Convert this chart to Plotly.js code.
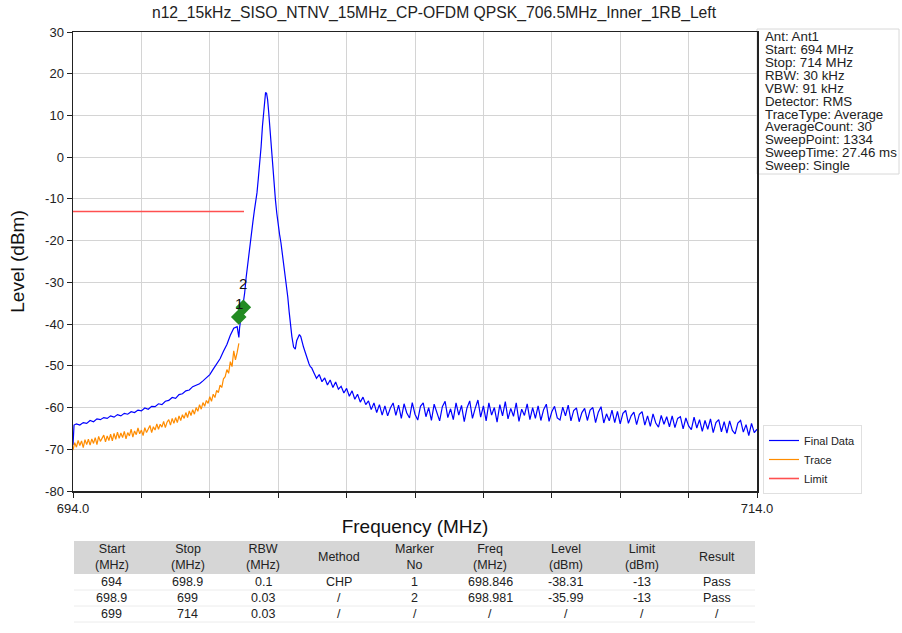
<!DOCTYPE html>
<html><head><meta charset="utf-8">
<script src="https://cdn.plot.ly/plotly-3.0.1.min.js"></script>
<style>html,body{margin:0;padding:0;background:#fff}#chart{width:902px;height:633px}</style>
</head><body><div id="chart"></div>
<script>
const chartTitle = "n12_15kHz_SISO_NTNV_15MHz_CP-OFDM QPSK_706.5MHz_Inner_1RB_Left";

// Final Data (blue) — start points
const blueStartFreq = [694.00, 694.03];
const blueStartLevel = [-69.0, -64.2];
// Final Data — left region sweep grid 694.1 .. 698.8 (step 0.1 MHz)
const blueLeftStart = 694.1, blueLeftStep = 0.1;
const blueLeftLevel = [-63.9,-64.2,-63.6,-63.8,-63.1,-63.4,-62.7,-62.9,-62.4,-62.6,
  -62.0,-62.3,-61.7,-62.0,-61.4,-61.6,-61.0,-61.2,-60.6,-60.8,
  -60.1,-60.4,-59.7,-59.8,-59.1,-59.3,-58.5,-58.3,-57.6,-57.8,
  -56.9,-56.7,-56.0,-55.8,-55.0,-54.7,-54.3,-53.6,-52.9,-52.1,
  -50.8,-49.6,-48.3,-46.5,-44.9,-42.7,-41.0,-40.6];
// Final Data — carrier region
const bluePeakFreq = [698.83,698.85,698.87,698.90,698.93,698.96,698.99,699.02,699.06,699.10,
  699.14,699.18,699.22,699.26,699.30,699.34,699.38,699.42,699.46,699.50,
  699.54,699.57,699.60,699.63,699.66,699.69,699.72,699.75,699.78,699.81,
  699.84,699.88,699.92,699.96,700.00,700.04,700.08,700.12,700.16,700.20,
  700.24,700.28,700.32,700.36,700.40,700.45,700.50,700.54,700.58,700.62,
  700.66,700.70,700.74,700.78,700.82,700.86,700.90,700.94,700.98];
const bluePeakLevel = [-42.5,-43.2,-41.0,-38.2,-37.0,-36.0,-34.6,-32.5,-29.0,-26.0,
  -23.5,-21.0,-18.5,-15.5,-13.0,-11.0,-8.5,-5.0,-1.5,2.5,
  7.5,11.0,14.5,15.5,15.3,13.8,11.0,7.5,3.5,0.0,
  -3.5,-7.0,-10.3,-13.5,-16.5,-18.5,-20.5,-23.0,-25.5,-28.0,
  -30.5,-33.5,-37.0,-40.5,-43.0,-45.5,-46.0,-44.0,-43.0,-42.5,
  -43.0,-44.5,-45.5,-46.5,-47.5,-48.8,-49.5,-50.2,-50.5];
// Final Data — right region sweep grid 701.04 .. 714.0 (step 0.08 MHz)
const blueRightStart = 701.04, blueRightStep = 0.08;
const blueRightLevel = [-51.6,-53.0,-52.1,-53.8,-52.9,-54.6,-53.4,-55.2,-53.9,-55.6,
  -54.9,-56.5,-55.4,-57.3,-56.0,-58.0,-56.8,-58.7,-57.5,-59.3,
  -58.4,-60.5,-58.9,-61.2,-59.3,-61.8,-59.6,-62.0,-60.1,-58.9,
  -61.9,-59.4,-62.6,-59.1,-61.3,-62.5,-58.8,-61.6,-63.0,-59.7,
  -58.9,-62.2,-60.0,-63.1,-59.2,-61.5,-63.2,-59.8,-58.5,-62.4,
  -60.3,-62.9,-58.9,-61.8,-59.5,-63.4,-60.1,-58.4,-62.6,-60.2,
  -58.2,-62.3,-59.6,-63.2,-58.9,-61.8,-60.0,-63.5,-59.3,-62.0,
  -58.6,-62.7,-60.2,-62.1,-58.9,-63.3,-60.4,-61.9,-59.1,-62.9,
  -60.0,-62.6,-59.6,-63.1,-60.5,-59.2,-63.3,-61.0,-59.7,-62.5,
  -63.0,-59.9,-62.0,-59.4,-63.2,-60.7,-60.1,-63.4,-61.2,-60.2,
  -63.1,-60.6,-60.0,-63.6,-61.1,-59.8,-63.7,-61.5,-63.2,-60.6,
  -63.6,-60.9,-63.9,-61.4,-60.7,-63.8,-62.0,-61.1,-64.1,-61.6,
  -61.0,-64.2,-62.0,-64.5,-61.5,-63.7,-64.7,-61.9,-64.0,-62.2,
  -64.6,-62.0,-64.8,-62.6,-62.2,-65.1,-62.5,-64.4,-65.3,-62.3,
  -64.9,-62.9,-65.7,-63.1,-65.2,-62.7,-66.0,-63.6,-62.9,-65.8,
  -63.4,-66.1,-63.2,-65.5,-66.3,-63.7,-63.1,-65.9,-64.1,-66.7,
  -63.8,-66.0,-65.2];

// Trace (orange) — sweep grid 694.0 .. 698.85 (step 0.05 MHz)
const traceStart = 694.0, traceStep = 0.05;
const traceLevel = [-70.2,-68.4,-69.5,-67.9,-69.1,-68.0,-69.6,-67.7,-68.9,-67.6,
  -69.0,-67.5,-68.6,-67.2,-68.9,-66.9,-68.1,-67.3,-66.6,-68.2,
  -66.8,-67.9,-66.4,-68.0,-66.2,-67.6,-65.9,-67.4,-66.1,-67.2,
  -65.7,-67.5,-66.0,-66.8,-65.2,-67.1,-65.6,-66.5,-64.9,-66.3,
  -65.4,-66.7,-64.8,-66.0,-65.1,-64.3,-66.0,-64.6,-65.4,-63.9,
  -65.2,-64.0,-64.7,-63.3,-64.8,-63.5,-62.9,-64.2,-62.6,-63.8,
  -62.4,-63.6,-62.0,-63.1,-61.7,-62.6,-61.2,-62.4,-60.8,-61.9,
  -60.5,-61.6,-60.0,-60.9,-59.3,-60.4,-58.8,-59.7,-58.3,-59.0,
  -57.4,-58.5,-56.8,-57.6,-55.9,-56.4,-54.6,-55.2,-53.1,-52.6,
  -50.9,-51.8,-49.0,-50.2,-46.4,-48.6,-46.8,-44.6];

// Limit
const limitFreq = [694, 699];
const limitLevel = [-13, -13];

// Markers
const markerNo = ["1", "2"];
const markerFreq = [698.846, 698.981];
const markerLevel = [-38.31, -35.99];

// Axis ticks
const xTickVals = [694,696,698,700,702,704,706,708,710,712,714];
const xTickText = ["694.0","","","","","","","","","","714.0"];
const yTickVals = [-80,-70,-60,-50,-40,-30,-20,-10,0,10,20,30];
const yTickText = ["-80","-70","-60","-50","-40","-30","-20","-10","0","10","20","30"];

// Info box
const infoLines = ["Ant: Ant1","Start: 694 MHz","Stop: 714 MHz","RBW: 30 kHz","VBW: 91 kHz",
  "Detector: RMS","TraceType: Average","AverageCount: 30","SweepPoint: 1334",
  "SweepTime: 27.46 ms","Sweep: Single"];

// Table
const tableHeader = ["Start<br>(MHz)","Stop<br>(MHz)","RBW<br>(MHz)","Method","Marker<br>No",
  "Freq<br>(MHz)","Level<br>(dBm)","Limit<br>(dBm)","Result"];
const colStart = ["694","698.9","699"];
const colStop = ["698.9","699","714"];
const colRBW = ["0.1","0.03","0.03"];
const colMethod = ["CHP","/","/"];
const colMarker = ["1","2","/"];
const colFreq = ["698.846","698.981","/"];
const colLevel = ["-38.31","-35.99","/"];
const colLimit = ["-13","-13","/"];
const colResult = ["Pass","Pass","/"];
const tableColumns = [colStart,colStop,colRBW,colMethod,colMarker,colFreq,colLevel,colLimit,colResult];

// ---- build ----
const gridFreq = (start, step, n) => Array.from({length: n}, (_, i) => +(start + i * step).toFixed(3));
const blueFreq = blueStartFreq.concat(gridFreq(blueLeftStart, blueLeftStep, blueLeftLevel.length),
  bluePeakFreq, gridFreq(blueRightStart, blueRightStep, blueRightLevel.length));
const blueLevel = blueStartLevel.concat(blueLeftLevel, bluePeakLevel, blueRightLevel);
const traceFreq = gridFreq(traceStart, traceStep, traceLevel.length);

const FONT = "Liberation Sans, Arial, sans-serif";
const W = 902, H = 633;
const mL = 73, mR = 145, mT = 32, mB = 10;
const plotBottom = 491;
const paperH = H - mT - mB, paperW = W - mL - mR;
const py = (pix) => (H - mB - pix) / paperH;   // pixel y -> paper y
const px = (pix) => (pix - mL) / paperW;       // pixel x -> paper x

const data = [
  {type:'scatter', mode:'lines', name:'Final Data', x: blueFreq, y: blueLevel,
   line:{color:'#0000ff', width:1.2}},
  {type:'scatter', mode:'lines', name:'Trace', x: traceFreq, y: traceLevel,
   line:{color:'#ff8c00', width:1.2}},
  {type:'scatter', mode:'lines', name:'Limit', x: limitFreq, y: limitLevel,
   line:{color:'#ff5050', width:1.6}},
  {type:'scatter', mode:'markers', name:'Markers', showlegend:false, x: markerFreq, y: markerLevel,
   marker:{symbol:'diamond', size:12, color:'#228b22'}}
];

const annotations = infoLines.map((t, i) => ({
  xref:'paper', yref:'paper', x: px(763), y: py(37 + i * 12.85), xanchor:'left', yanchor:'middle',
  text: t, showarrow:false, font:{family:FONT, size:13.3, color:'#222'}
}));
const markerShift = [14, 24];
markerNo.forEach((t, i) => annotations.push({
  xref:'x', yref:'y', x: markerFreq[i], y: markerLevel[i], text: t, showarrow:false,
  yshift: markerShift[i], font:{family:FONT, size:15, color:'#111'}
}));

// table drawn as header band + text cells
const tblLeft = 74, tblRight = 755, hdrTop = 541, hdrBottom = 574, rowH = 16;
const colW = (tblRight - tblLeft) / tableHeader.length;
const shapes = [
  {type:'rect', xref:'paper', yref:'paper', x0:1, x1:px(899), y0:py(174), y1:py(29),
   line:{color:'#d8d8d8', width:1}, fillcolor:'rgba(0,0,0,0)', layer:'below'},
  {type:'rect', xref:'paper', yref:'paper', x0:px(tblLeft), x1:px(tblRight), y0:py(hdrBottom), y1:py(hdrTop),
   line:{width:0}, fillcolor:'#d6d6d6', layer:'below'}
];
tableHeader.forEach((h, c) => annotations.push({
  xref:'paper', yref:'paper', x: px(tblLeft + colW * (c + 0.5)), y: py((hdrTop + hdrBottom) / 2 - 0.5),
  xanchor:'center', yanchor:'middle', text: h, showarrow:false, font:{family:FONT, size:12.5, color:'#222'}
}));
tableColumns.forEach((col, c) => col.forEach((v, r) => annotations.push({
  xref:'paper', yref:'paper', x: px(tblLeft + colW * (c + 0.5)), y: py(hdrBottom + rowH * (r + 0.5)),
  xanchor:'center', yanchor:'middle', text: v, showarrow:false, font:{family:FONT, size:12.5, color:'#222'}
})));
for (let r = 1; r <= 3; r++) {
  shapes.push({type:'line', xref:'paper', yref:'paper', x0:px(tblLeft), x1:px(tblRight),
    y0:py(hdrBottom + rowH * r), y1:py(hdrBottom + rowH * r), line:{color:'#ececec', width:1}, layer:'below'});
}

const layout = {
  width: W, height: H,
  margin:{l:mL, r:mR, t:mT, b:mB},
  paper_bgcolor:'white', plot_bgcolor:'white',
  font:{family:FONT, color:'#222'},
  title:{text: chartTitle, font:{family:FONT, size:15.7, color:'#222'},
    x: px(434), xref:'paper', xanchor:'center', y: 1 - 13/H, yref:'container', yanchor:'middle'},
  xaxis:{range:[694,714], domain:[0,1], tickvals:xTickVals, ticktext:xTickText,
    ticks:'outside', ticklen:5, tickcolor:'#222', showline:true, linecolor:'#222', linewidth:1.5, mirror:true,
    showgrid:true, gridcolor:'#d4d4d4', gridwidth:1, zeroline:false,
    tickfont:{family:FONT, size:13, color:'#222'},
    title:{text:'Frequency (MHz)', font:{family:FONT, size:19, color:'#111'}, standoff:4}},
  yaxis:{range:[-80,30], domain:[py(plotBottom), 1], tickvals:yTickVals, ticktext:yTickText,
    ticks:'outside', ticklen:5, tickcolor:'#222', showline:true, linecolor:'#222', linewidth:1.5, mirror:true,
    showgrid:true, gridcolor:'#d4d4d4', gridwidth:1, zeroline:false,
    tickfont:{family:FONT, size:13, color:'#222'},
    title:{text:'Level (dBm)', font:{family:FONT, size:19, color:'#111'}, standoff:15}},
  showlegend:true,
  legend:{x: px(763), xanchor:'left', y: py(425), yanchor:'top', bgcolor:'white',
    bordercolor:'#e0e0e0', borderwidth:1, font:{family:FONT, size:11, color:'#222'}, tracegroupgap:0},
  shapes: shapes,
  annotations: annotations
};

Plotly.newPlot('chart', data, layout, {displayModeBar:false, staticPlot:true});
</script></body></html>
